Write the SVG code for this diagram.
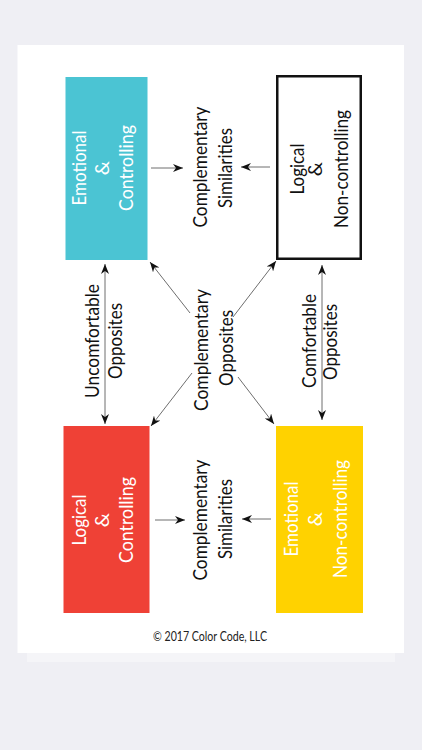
<svg xmlns="http://www.w3.org/2000/svg" width="422" height="750" viewBox="0 0 422 750">
<style>
.t{font-family:Lato,"Open Sans","DejaVu Sans",sans-serif;font-size:20px;text-anchor:middle}
.w{fill:#ffffff}
.k{fill:#111111}
.c{stroke:#6e6e6e;stroke-width:1;fill:none}
</style>
<defs>
<marker id="ah" viewBox="0 0 10 8" refX="10" refY="4" markerWidth="10" markerHeight="8" markerUnits="userSpaceOnUse" orient="auto-start-reverse">
<path d="M0,0 L10,4 L0,8 L3,4 Z" fill="#111"/>
</marker>
</defs>
<rect x="0" y="0" width="422" height="750" fill="#efeff4"/>
<rect x="27" y="653" width="368" height="9" fill="#f5f5f8"/>
<rect x="17.5" y="45" width="386.5" height="608" fill="#ffffff"/>

<g id="connectors">
<line class="c" x1="151" y1="168" x2="183" y2="168" marker-end="url(#ah)"/>
<line class="c" x1="270" y1="167" x2="241" y2="167" marker-end="url(#ah)"/>
<line class="c" x1="155" y1="520" x2="185" y2="520" marker-end="url(#ah)"/>
<line class="c" x1="271" y1="519" x2="242" y2="519" marker-end="url(#ah)"/>
<line class="c" x1="105" y1="264" x2="105" y2="424" marker-start="url(#ah)" marker-end="url(#ah)"/>
<line class="c" x1="322" y1="265" x2="322" y2="420" marker-start="url(#ah)" marker-end="url(#ah)"/>
<line class="c" x1="190" y1="313" x2="150" y2="262" marker-end="url(#ah)"/>
<line class="c" x1="233" y1="317" x2="276" y2="261" marker-end="url(#ah)"/>
<line class="c" x1="192" y1="373" x2="151" y2="426" marker-end="url(#ah)"/>
<line class="c" x1="238" y1="377" x2="274" y2="424" marker-end="url(#ah)"/>
</g>

<g id="emotional-controlling">
<rect x="65.5" y="77" width="82" height="183" fill="#4bc4d3"/>
<g transform="rotate(-90)">
<text class="t w" x="-168" y="86" textLength="75" lengthAdjust="spacingAndGlyphs">Emotional</text>
<text class="t w" x="-168" y="109">&amp;</text>
<text class="t w" x="-168" y="133" textLength="86" lengthAdjust="spacingAndGlyphs">Controlling</text>
</g>
</g>

<g id="logical-noncontrolling">
<rect x="277.25" y="76.25" width="83.5" height="182.5" fill="#ffffff" stroke="#111" stroke-width="2.5"/>
<g transform="rotate(-90)">
<text class="t k" x="-169" y="304" textLength="51" lengthAdjust="spacingAndGlyphs">Logical</text>
<text class="t k" x="-169" y="322">&amp;</text>
<text class="t k" x="-169" y="348" textLength="118" lengthAdjust="spacingAndGlyphs">Non-controlling</text>
</g>
</g>

<g id="logical-controlling">
<rect x="63.5" y="426" width="86" height="187" fill="#ef4136"/>
<g transform="rotate(-90)">
<text class="t w" x="-520" y="86" textLength="51" lengthAdjust="spacingAndGlyphs">Logical</text>
<text class="t w" x="-520" y="109">&amp;</text>
<text class="t w" x="-520" y="133" textLength="86" lengthAdjust="spacingAndGlyphs">Controlling</text>
</g>
</g>

<g id="emotional-noncontrolling">
<rect x="276" y="426" width="87" height="187" fill="#ffd200"/>
<g transform="rotate(-90)">
<text class="t w" x="-519" y="298" textLength="75" lengthAdjust="spacingAndGlyphs">Emotional</text>
<text class="t w" x="-519" y="322">&amp;</text>
<text class="t w" x="-519" y="347" textLength="118" lengthAdjust="spacingAndGlyphs">Non-controlling</text>
</g>
</g>

<g id="similarities-top" transform="rotate(-90)">
<text class="t k" x="-167" y="207" textLength="121" lengthAdjust="spacingAndGlyphs">Complementary</text>
<text class="t k" x="-168" y="232" textLength="80" lengthAdjust="spacingAndGlyphs">Similarities</text>
</g>

<g id="similarities-bottom" transform="rotate(-90)">
<text class="t k" x="-520" y="207" textLength="121" lengthAdjust="spacingAndGlyphs">Complementary</text>
<text class="t k" x="-519" y="232" textLength="80" lengthAdjust="spacingAndGlyphs">Similarities</text>
</g>

<g id="complementary-opposites" transform="rotate(-90)">
<text class="t k" x="-350" y="208" textLength="122" lengthAdjust="spacingAndGlyphs">Complementary</text>
<text class="t k" x="-348" y="233" textLength="76" lengthAdjust="spacingAndGlyphs">Opposites</text>
</g>

<g id="uncomfortable-opposites" transform="rotate(-90)">
<text class="t k" x="-341" y="99" textLength="114" lengthAdjust="spacingAndGlyphs">Uncomfortable</text>
<text class="t k" x="-341" y="122" textLength="76" lengthAdjust="spacingAndGlyphs">Opposites</text>
</g>

<g id="comfortable-opposites" transform="rotate(-90)">
<text class="t k" x="-341" y="316" textLength="94" lengthAdjust="spacingAndGlyphs">Comfortable</text>
<text class="t k" x="-342" y="337" textLength="76" lengthAdjust="spacingAndGlyphs">Opposites</text>
</g>

<g id="footer">
<text x="210" y="641" font-family="Lato,'Open Sans',sans-serif" font-size="12.5" fill="#222" text-anchor="middle" textLength="114" lengthAdjust="spacingAndGlyphs">© 2017 Color Code, LLC</text>
</g>
</svg>
